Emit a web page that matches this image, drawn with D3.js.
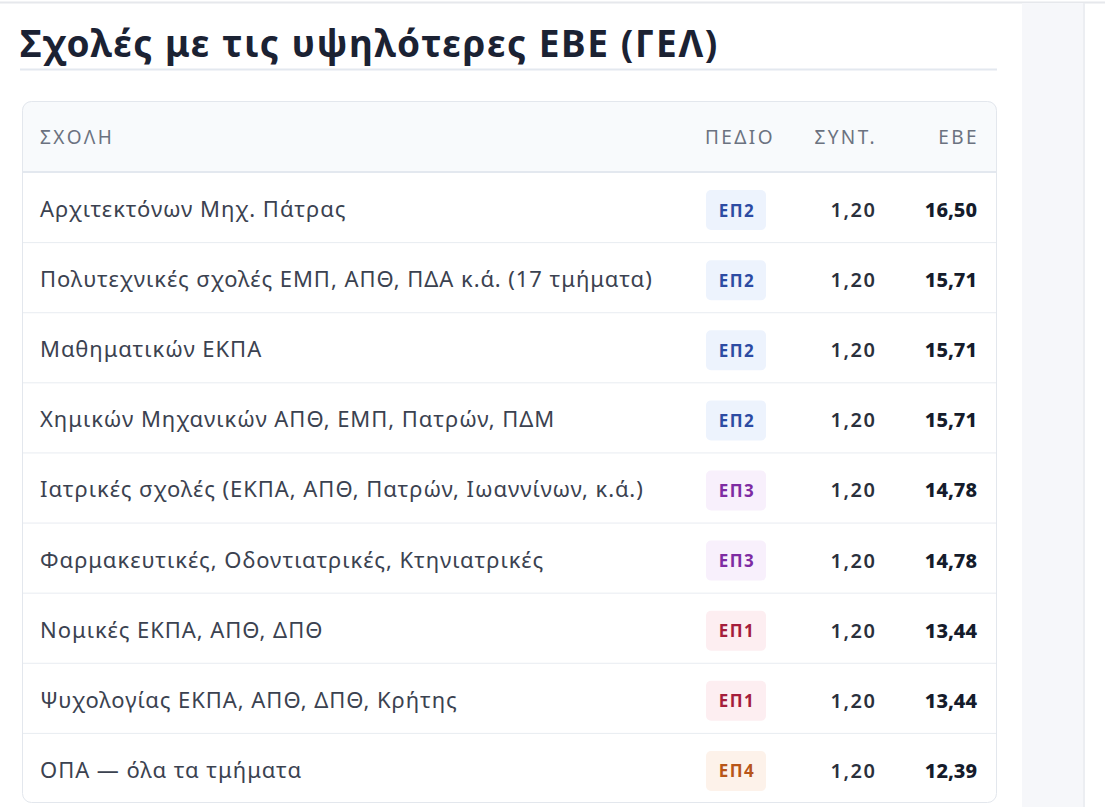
<!DOCTYPE html>
<html>
<head>
<meta charset="utf-8">
<script src="https://cdn.jsdelivr.net/npm/d3@7"></script>
<style>
  body { margin: 0; background: #fff; }
  svg text { font-family: "Noto Sans", "Open Sans", sans-serif; }
</style>
</head>
<body>
<script>
const schools = [
  "Αρχιτεκτόνων Μηχ. Πάτρας",
  "Πολυτεχνικές σχολές ΕΜΠ, ΑΠΘ, ΠΔΑ κ.ά. (17 τμήματα)",
  "Μαθηματικών ΕΚΠΑ",
  "Χημικών Μηχανικών ΑΠΘ, ΕΜΠ, Πατρών, ΠΔΜ",
  "Ιατρικές σχολές (ΕΚΠΑ, ΑΠΘ, Πατρών, Ιωαννίνων, κ.ά.)",
  "Φαρμακευτικές, Οδοντιατρικές, Κτηνιατρικές",
  "Νομικές ΕΚΠΑ, ΑΠΘ, ΔΠΘ",
  "Ψυχολογίας ΕΚΠΑ, ΑΠΘ, ΔΠΘ, Κρήτης",
  "ΟΠΑ — όλα τα τμήματα"
];
const fields = ["ΕΠ2", "ΕΠ2", "ΕΠ2", "ΕΠ2", "ΕΠ3", "ΕΠ3", "ΕΠ1", "ΕΠ1", "ΕΠ4"];
const coefs = [1.20, 1.20, 1.20, 1.20, 1.20, 1.20, 1.20, 1.20, 1.20];
const ebe = [16.50, 15.71, 15.71, 15.71, 14.78, 14.78, 13.44, 13.44, 12.39];
const headers = ["ΣΧΟΛΗ", "ΠΕΔΙΟ", "ΣΥΝΤ.", "ΕΒΕ"];

const badgeColors = {
  "ΕΠ1": { bg: "#fdeef1", fg: "#a51d3c" },
  "ΕΠ2": { bg: "#edf3fd", fg: "#2c4ba3" },
  "ΕΠ3": { bg: "#f8f0fc", fg: "#7e2ca3" },
  "ΕΠ4": { bg: "#fdf2ea", fg: "#b8561a" }
};

const W = 1105, H = 807;
const card = { x: 22, y: 101, w: 975, h: 702 };
const headH = 71;

const locale = d3.formatLocale({ decimal: ",", thousands: ".", grouping: [3], currency: ["", "€"] });
const fmt = locale.format(".2f");

const svg = d3.select("body").append("svg")
  .attr("width", W)
  .attr("height", H);

// page chrome
svg.append("line").attr("x1", 0).attr("x2", W).attr("y1", 2.5).attr("y2", 2.5)
  .attr("stroke", "#e6e8ec").attr("stroke-width", 2);
svg.append("rect").attr("x", 1022).attr("y", 3).attr("width", 61).attr("height", H)
  .attr("fill", "#f6f7fa");
svg.append("rect").attr("x", 1083).attr("y", 3).attr("width", 2).attr("height", H)
  .attr("fill", "#eceef2");

svg.append("text")
  .attr("x", 20)
  .attr("y", 57)
  .attr("font-size", 37)
  .attr("font-weight", 700)
  .attr("letter-spacing", 1.6)
  .attr("fill", "#1b2233")
  .text("Σχολές με τις υψηλότερες ΕΒΕ (ΓΕΛ)");

svg.append("line").attr("x1", 20).attr("x2", 997).attr("y1", 69.5).attr("y2", 69.5)
  .attr("stroke", "#e3e8ef").attr("stroke-width", 2);

// card
svg.append("clipPath").attr("id", "cardclip")
  .append("rect").attr("x", card.x).attr("y", card.y)
  .attr("width", card.w).attr("height", card.h).attr("rx", 9);

const g = svg.append("g").attr("clip-path", "url(#cardclip)");
g.append("rect").attr("x", card.x).attr("y", card.y)
  .attr("width", card.w).attr("height", card.h).attr("fill", "#fff");
g.append("rect").attr("x", card.x).attr("y", card.y)
  .attr("width", card.w).attr("height", headH).attr("fill", "#f8fafc");

const y = d3.scaleBand()
  .domain(schools)
  .range([card.y + headH, card.y + card.h]);

// column anchors
const colX = { name: 40, field: 736, coef: 875, ebe: 977 };

const headG = svg.append("g")
  .attr("font-size", 19)
  .attr("fill", "#6b7280")
  .attr("letter-spacing", 2.4);
const headY = card.y + headH / 2 + 7;
headG.append("text").attr("x", colX.name).attr("y", headY).text(headers[0]);
headG.append("text").attr("x", colX.field + 4).attr("y", headY).attr("text-anchor", "middle").text(headers[1]);
headG.append("text").attr("x", colX.coef + 2).attr("y", headY).attr("text-anchor", "end").text(headers[2]);
headG.append("text").attr("x", colX.ebe + 2).attr("y", headY).attr("text-anchor", "end").text(headers[3]);

svg.append("line").attr("x1", card.x).attr("x2", card.x + card.w)
  .attr("y1", card.y + headH).attr("y2", card.y + headH)
  .attr("stroke", "#e3e8ef").attr("stroke-width", 2);

const rows = svg.selectAll("g.row")
  .data(schools)
  .enter()
  .append("g")
  .attr("class", "row")
  .attr("transform", d => `translate(0,${y(d)})`);

rows.filter((d, i) => i > 0)
  .append("line")
  .attr("x1", card.x).attr("x2", card.x + card.w)
  .attr("y1", 0.5).attr("y2", 0.5)
  .attr("stroke", "#e8ecf1");

const mid = y.bandwidth() / 2;

rows.append("text")
  .attr("x", colX.name)
  .attr("y", mid + 10)
  .attr("font-size", 22)
  .attr("letter-spacing", 0.95)
  .attr("fill", "#3b4250")
  .text(d => d);

rows.append("rect")
  .attr("x", colX.field - 30)
  .attr("y", mid - 17)
  .attr("width", 60)
  .attr("height", 40)
  .attr("rx", 5)
  .attr("fill", (d, i) => badgeColors[fields[i]].bg);

rows.append("text")
  .attr("x", colX.field + 1)
  .attr("y", mid + 9.5)
  .attr("text-anchor", "middle")
  .attr("font-size", 17)
  .attr("font-weight", 700)
  .attr("letter-spacing", 1.5)
  .attr("fill", (d, i) => badgeColors[fields[i]].fg)
  .text((d, i) => fields[i]);

rows.append("text")
  .attr("x", colX.coef + 1.5)
  .attr("y", mid + 10)
  .attr("text-anchor", "end")
  .attr("font-size", 20)
  .attr("font-weight", 600)
  .attr("letter-spacing", 1.5)
  .attr("fill", "#2a303c")
  .text((d, i) => fmt(coefs[i]));

rows.append("text")
  .attr("x", colX.ebe)
  .attr("y", mid + 10)
  .attr("text-anchor", "end")
  .attr("font-size", 20)
  .attr("font-weight", 800)
  .attr("fill", "#151c2c")
  .text((d, i) => fmt(ebe[i]));

// card border
svg.append("rect").attr("x", card.x + 0.5).attr("y", card.y + 0.5)
  .attr("width", card.w - 1).attr("height", card.h - 1).attr("rx", 9)
  .attr("fill", "none").attr("stroke", "#e3e7ed");
</script>
</body>
</html>
